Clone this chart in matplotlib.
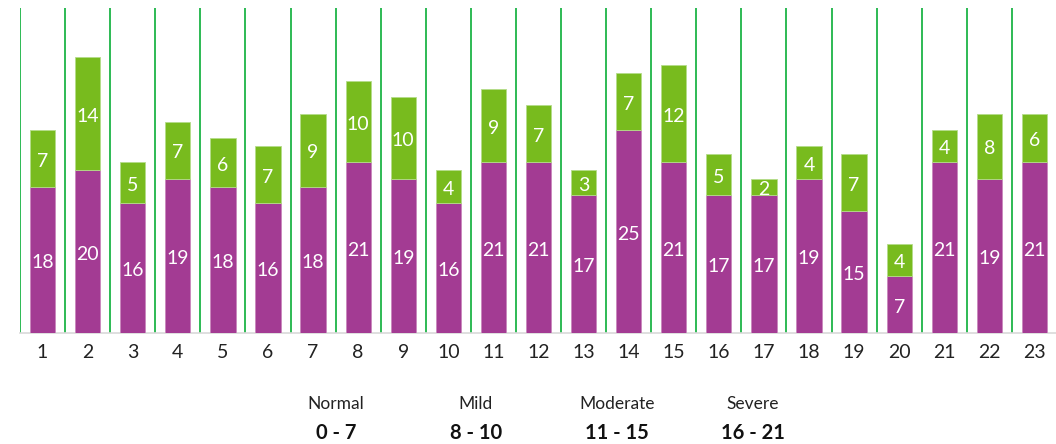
import matplotlib
matplotlib.use("Agg")
import matplotlib.pyplot as plt
import numpy as np

plt.rcParams["font.family"] = ["Lato", "DejaVu Sans"]

PURPLE = "#a33b93"
GREEN = "#78bb1e"
LINE = "#1db446"

weeks = list(range(1, 24))
base_vals = [18, 20, 16, 19, 18, 16, 18, 21, 19, 16, 21, 21, 17, 25, 21, 17, 17, 19, 15, 7, 21, 19, 21]
top_vals = [7, 14, 5, 7, 6, 7, 9, 10, 10, 4, 9, 7, 3, 7, 12, 5, 2, 4, 7, 4, 4, 8, 6]
bands = ["Normal", "Mild", "Moderate", "Severe"]
ranges = ["0 - 7", "8 - 10", "11 - 15", "16 - 21"]

fig = plt.figure(figsize=(10.56, 4.44), dpi=100)
ax = fig.add_axes([20 / 1056, 1 - 333 / 444, 1037 / 1056, 325 / 444])

x = np.array(weeks)
w = 0.56
b1 = ax.bar(x, base_vals, w, color=PURPLE, edgecolor="#c987bd", linewidth=0.6, zorder=3)
b2 = ax.bar(x, top_vals, w, bottom=base_vals, color=GREEN, edgecolor="#b5dc8a", linewidth=0.6, zorder=3)
ax.bar_label(b1, label_type="center", color="white", fontsize=14, padding=-2)
ax.bar_label(b2, label_type="center", color="white", fontsize=14, padding=-2)

for xv in np.arange(0.5, 23.5, 1.0):
    ax.axvline(xv, color=LINE, lw=1.3, zorder=2)

ax.set_xlim(0.5, 23.5)
ax.set_ylim(0, 40)
ax.set_yticks([])
ax.set_xticks(x)
ax.set_xticklabels([str(v) for v in weeks], fontsize=14, color="#222222")
ax.tick_params(axis="x", length=0, pad=8)
for s in ["top", "right", "left"]:
    ax.spines[s].set_visible(False)
ax.spines["bottom"].set_color("#d9d9d9")
ax.spines["bottom"].set_linewidth(1.2)

xs = [336, 476, 617, 753]
for xp, band, rng in zip(xs, bands, ranges):
    fig.text(xp / 1056, 1 - 404 / 444, band, ha="center", va="center", fontsize=12.5, color="#222222")
    fig.text(xp / 1056, 1 - 433 / 444, rng, ha="center", va="center", fontsize=14.5,
             fontweight="bold", color="#111111")

fig.savefig("out.png", dpi=100)
